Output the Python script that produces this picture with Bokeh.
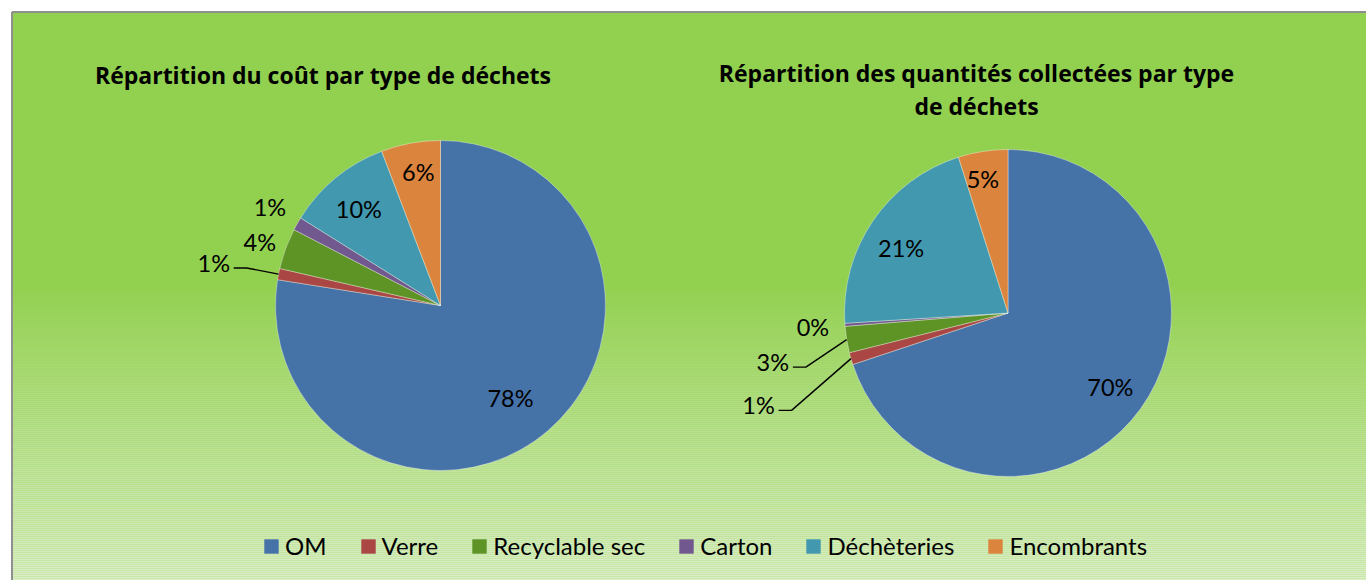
import numpy as np
from bokeh.plotting import figure
from bokeh.models import Range1d, Legend, LegendItem, ColumnDataSource
from bokeh.core.properties import value
from bokeh.embed import file_html
from bokeh.resources import INLINE

# ---------------- data ----------------
categories = ["OM", "Verre", "Recyclable sec", "Carton", "Déchèteries", "Encombrants"]
cost_share = [77.5, 1.1, 4.0, 1.3, 10.3, 5.8]      # % of cost
qty_share = [69.9, 1.2, 2.6, 0.3, 21.1, 4.9]       # % of collected quantities
colors = ["#4572A7", "#AA4643", "#5E9326", "#71588F", "#4198AF", "#DB843D"]
title_cost = ["Répartition du coût par type de déchets"]
title_qty = ["Répartition des quantités collectées par type", "de déchets"]

# ---------------- layout ----------------
W, H = 1366, 580


def X(px):
    return px


def Y(py):
    return H - py


FONT = "Lato"
TFONT = "Open Sans"

p = figure(width=W, height=H, output_backend="svg", toolbar_location=None,
           x_range=Range1d(0, W), y_range=Range1d(0, H),
           x_axis_location=None, y_axis_location=None, min_border=0,
           background_fill_color="white", border_fill_color="white")
p.grid.visible = False
p.outline_line_color = None

# background: flat green top, gradient to pale green at bottom
p.quad(left=X(12), right=W + 5, bottom=-5, top=Y(12), fill_color="#92D050", line_color=None)
g_top, g_bot = 280, 584
ys = np.arange(g_top, g_bot, 2)
c0 = np.array([0x92, 0xD0, 0x50])
c1 = np.array([0xDD, 0xEF, 0xCA])
t = (ys - g_top) / (580 - g_top)
cols = ["#%02x%02x%02x" % tuple(np.clip(np.round(c0 + (c1 - c0) * tt), 0, 255).astype(int)) for tt in t]
p.quad(left=X(12), right=W + 5, top=[Y(y) for y in ys], bottom=[Y(y + 2) for y in ys],
       fill_color=cols, line_color=None)
# frame border
p.segment(x0=[X(11.5), X(11.5)], y0=[Y(11.5), Y(11.5)], x1=[X(11.5), W + 5], y1=[-5, Y(11.5)],
          line_color="#8f8f8f", line_width=2)


def draw_pie(cx, cy, radius, vals, label_spec):
    fr = np.array(vals, dtype=float) / sum(vals)
    cum = np.concatenate([[0.0], np.cumsum(fr)])
    start = np.pi / 2 - cum[1:] * 2 * np.pi
    end = np.pi / 2 - cum[:-1] * 2 * np.pi
    src = ColumnDataSource(dict(start=start, end=end, color=colors, cat=categories))
    r = p.wedge(x=X(cx), y=Y(cy), radius=radius, start_angle="start", end_angle="end",
                fill_color="color", line_color="white", line_alpha=0.45, line_width=0.8,
                source=src)
    mid = np.pi / 2 - (cum[:-1] + cum[1:]) / 2 * 2 * np.pi
    lx, ly, txt = [], [], []
    for i, v in enumerate(vals):
        frac, nx, ny, leader = label_spec[i]
        x = X(cx) + frac * radius * np.cos(mid[i]) + nx
        y = Y(cy) + frac * radius * np.sin(mid[i]) - ny
        lx.append(x)
        ly.append(y)
        txt.append("%d%%" % int(np.floor(v + 0.5)))
        if leader:
            ax = X(cx) + radius * np.cos(mid[i])
            ay = Y(cy) + radius * np.sin(mid[i])
            p.line(x=[x + 20, x + 33, ax], y=[y - 5.5, y - 5.5, ay], line_color="black",
                   line_width=1.4)
    p.text(x=lx, y=ly, text=txt, text_align="center", text_baseline="middle",
           text_font=value(FONT), text_font_size="23.5px", text_color="black")
    return r


# (radius fraction, x nudge px, y nudge px (down), leader line)
spec_cost = [(0.70, -5, 5, False), (1.40, 0, 1, True), (1.16, -1, 2, False),
             (1.19, 0, -1, False), (0.77, -1, 2, False), (0.81, 2, -2, False)]
spec_qty = [(0.78, -1, -1, False), (1.63, 6.5, 17.5, True), (1.47, 2, 9.5, True),
            (1.19, -1, 0, False), (0.77, -3, 6, False), (0.84, -4, 2, False)]

draw_pie(440, 305, 165, cost_share, spec_cost)
draw_pie(1007.5, 312.5, 163.5, qty_share, spec_qty)

# titles
p.text(x=[X(322.5)], y=[Y(74)], text=title_cost, text_align="center", text_baseline="middle",
       text_font=value(TFONT), text_font_style="bold", text_font_size="23px", text_color="black")
p.text(x=[X(976), X(976)], y=[Y(72), Y(105)], text=title_qty, text_align="center",
       text_baseline="middle", text_font=value(TFONT), text_font_style="bold",
       text_font_size="23px", text_color="black")

# legend (one square-swatch renderer per category, no visible data)
items = []
for c, col in zip(categories, colors):
    rr = p.quad(left=[np.nan], right=[np.nan], top=[np.nan], bottom=[np.nan],
                fill_color=col, line_color=None)
    items.append(LegendItem(label=c, renderers=[rr]))
legend = Legend(items=items, orientation="horizontal", location=(X(262), 20),
                glyph_width=18, glyph_height=18, label_standoff=5, spacing=32,
                padding=0, margin=0, border_line_alpha=0, background_fill_alpha=0,
                label_text_font=FONT, label_text_font_size="24px", label_height=22,
                label_text_color="black")
p.add_layout(legend)

open("out.html", "w").write(file_html(p, INLINE))
